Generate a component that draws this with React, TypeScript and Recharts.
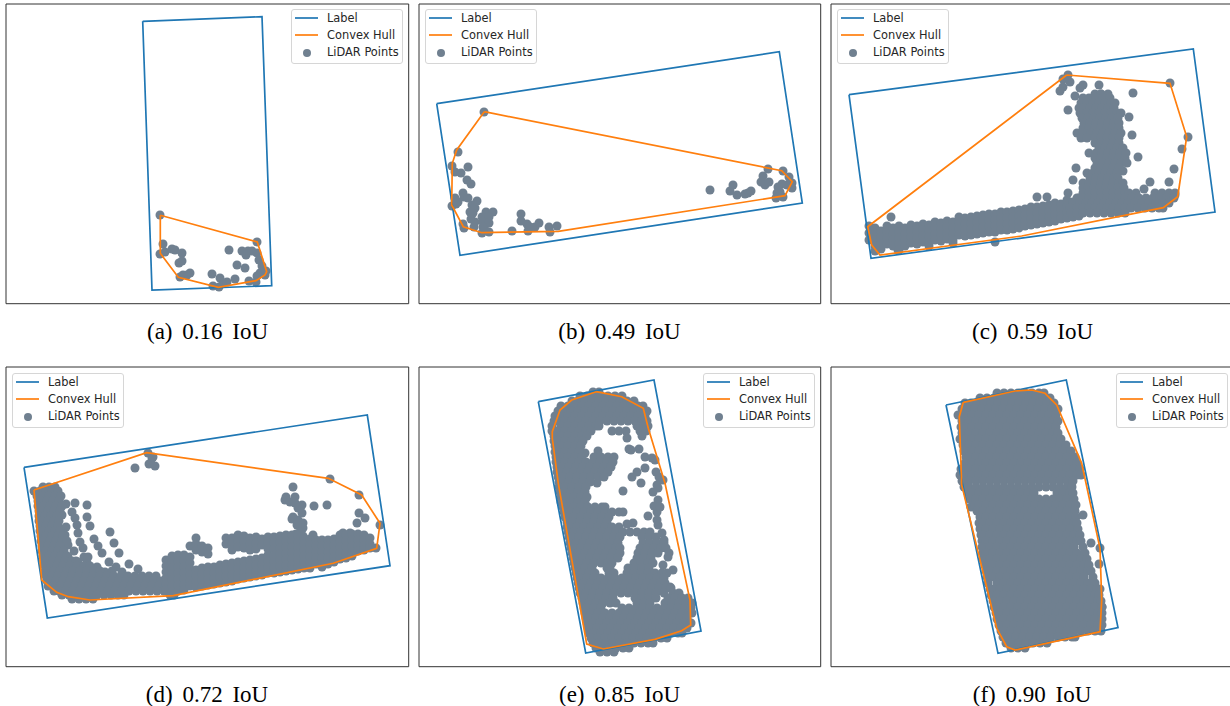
import React from "react";
import { ScatterChart, Scatter, XAxis, YAxis, ZAxis, Legend, ReferenceArea } from "recharts";

type Pt = { x: number; y: number };
const fromRows = (rows: number[][]): Pt[] => rows.flatMap(([y, ...xs]) => xs.map((x) => ({ x, y })));
const fromCols = (cols: number[][]): Pt[] => cols.flatMap(([x, ...ys]) => ys.map((y) => ({ x, y })));
const fromPairs = (p: number[][]): Pt[] => p.map(([x, y]) => ({ x, y }));
const closed = (p: number[][]): Pt[] => fromPairs([...p, p[0]]);

const captions = ["(a) 0.16 IoU", "(b) 0.49 IoU", "(c) 0.59 IoU", "(d) 0.72 IoU", "(e) 0.85 IoU", "(f) 0.90 IoU"];
const seriesNames = ["Label", "Convex Hull", "LiDAR Points"];

// (a)
const labelA = [[142.7,21.3],[262,16.7],[271.7,285.7],[152,290]];
const hullA = [[160.3,215.3],[257.3,242],[266.7,271.7],[265,275],[256,280.7],[218.3,287.3],[178.3,277.3],[160.3,253.3]];
const pointsA = [[160,215],[163,244],[160,254],[165,252],[172,249],[175,250],[182,253],[182,261],[179,263],[190,273],[187,275],[183,275],[180,277],[212,274],[213,286],[220,278],[219,287],[223,283],[227,282],[235,279],[229,250],[242,251],[246,255],[248,251],[252,251],[257,253],[257,242],[259,260],[237,265],[245,268],[262,266],[266,271],[265,275],[260,273],[257,276],[249,281],[256,282],[262,272]];

// (b)
const labelB = [[21.7,103.7],[364.3,51.7],[387.3,203],[45,255.3]];
const hullB = [[69.3,111.7],[366.7,170.7],[377.3,181.7],[370,195.7],[143.3,231.3],[66.7,232.7],[48.3,226.7],[36.7,205],[37.3,163.3],[41.7,150]];
const pointsB = [[69,112],[43,152],[37,166],[53,167],[40,172],[46,173],[52,180],[56,184],[48,193],[49,197],[53,198],[40,198],[43,202],[37,206],[41,204],[62,201],[57,205],[60,208],[55,212],[58,213],[71,212],[78,212],[67,217],[74,217],[56,219],[60,222],[68,222],[74,223],[48,224],[49,228],[59,227],[68,227],[67,233],[74,232],[70,230],[97,231],[106,214],[106,221],[112,224],[113,231],[115,227],[120,227],[124,223],[134,227],[135,232],[142,226],[295,190],[315,191],[318,185],[322,195],[330,194],[333,193],[336,191],[353,169],[348,176],[346,182],[350,185],[354,182],[368,171],[374,177],[377,183],[377,188],[367,184],[372,185],[363,187],[362,193],[361,198],[368,197],[365,192]];

// (c)
const labelC = [[24,94.7],[368.3,49],[390,212],[46,258.3]];
const hullC = [[241.7,75],[345,83.3],[361.7,136.7],[352.7,196.7],[338.3,207.7],[196.7,236],[55,255],[46.7,245],[42.7,226.7]];
const isolatedC = [[243,75],[238,79],[245,82],[238,87],[235,91],[258,85],[255,88],[250,96],[274,85],[345,83],[363,137],[357,149],[349,169],[344,182],[325,182],[319,189],[350,195],[313,157],[307,135],[304,117],[308,93],[276,94],[243,110],[251,168],[248,180],[243,193],[298,171],[212,197],[222,197],[66,217],[170,242],[128,243],[73,250]];
const bandC = [[44,226,233,240],[50,228,234,240,246,251],[56,231,237,243,249],[62,226,232,238,244],[68,228,234,240,246],[74,226,232,238,244,250],[80,228,234,240,246],[86,225,231,237,243],[92,226,232,238,244],[98,224,230,236,242],[104,225,231,237,243,246],[110,222,228,234,240],[116,223,229,235,241],[122,221,227,233,239],[128,222,228,234,240],[134,217,223,229,235],[140,218,224,230,236],[146,217,223,229,235],[152,216,222,228,234],[158,215,221,227,233],[164,214,220,226,232],[170,214,220,226,232],[176,212,218,224,230],[182,212,218,224,230],[188,211,217,223,229],[194,210,216,222,228],[200,209,215,221,226],[206,207,213,219,225],[212,207,213,219,224],[218,206,212,218,223],[224,205,211,217,222],[230,203,209,215,221],[236,204,210,216,219],[242,200,206,212,218],[248,202,208,214,217],[254,198,204,210,216]];
const towerC = [[94,270,276,283],[98,258,264,271,278,285],[103,256,262,268,274,280,286,290],[108,254,259,265,271,277,283,289],[113,255,262,268,274,280,286,292,296],[118,257,263,269,275,281,287,293],[123,259,265,271,277,283,289,294],[128,258,264,270,276,282,288,294],[133,252,258,266,272,278,284,290,296],[138,256,262,270,276,282,288,294],[143,270,276,282,288,294],[148,274,280,286,292,298],[153,264,271,277,283,289,295,301],[158,270,276,282,288,294,300],[163,272,278,284,290,296,302],[168,270,276,282,288,294],[173,262,268,274,280,286,292],[178,265,271,277,283,289,293],[183,258,264,270,276,282,288,294,298],[188,258,263,269,275,281,287,293,299],[193,258,264,270,276,282,288,294,300,304,311,330,337,344,350],[198,252,258,264,270,276,282,288,294,300,307,314,321,328,335,342,349],[203,248,255,261,267,273,279,285,291,297,303,310,317,324,331,338,344],[208,245,252,258,264,270,276,282,288,294,300,306,313,320,327,334,338],[213,246,252,258,265,272,279,286,293,300]];
const pointsC = [...fromPairs(isolatedC), ...fromCols(bandC), ...fromRows(towerC)];

// (d)
const labelD = [[24,107.3],[367.3,55],[390,205.7],[47.3,258]];
const hullD = [[34,130],[146.7,92.7],[328.3,118.3],[361.7,135],[380,163.3],[376.7,188.3],[333.3,203.3],[173.3,235.7],[90,240],[68.3,236.7],[56.7,232.3],[41.7,220]];
const isolatedD = [[148,93],[152,98],[149,104],[155,106],[135,108],[153,97],[330,119],[359,135],[293,127],[314,146],[327,145],[359,153],[365,158],[357,163],[380,165],[286,137],[285,140],[290,142],[295,137],[295,143],[302,145],[298,148],[302,153],[293,157],[292,159],[298,160],[303,163],[297,165],[303,168],[300,172],[296,174],[303,176],[313,175],[343,173],[350,173],[75,143],[87,145],[87,157],[90,166],[110,172],[94,179],[98,186],[114,183],[102,193],[119,193],[109,202],[116,207],[129,204],[122,212],[138,209],[66,144],[72,152],[75,158],[62,155],[77,165],[66,167],[65,175],[78,173],[80,182],[83,188],[68,185],[84,197],[68,197],[88,197],[78,202],[97,207],[87,203],[105,212]];
const cornerD = [[127,43,49,55],[131,34,40,46,52,58],[136,37,43,49,55,61],[141,38,41,47,53,59],[146,38,44,50,56,62],[151,39,42,48,54,60],[156,39,45,51,57],[161,39,42,48,54,59],[166,40,46,52,58],[171,40,43,49,55,60],[176,41,46,52,58,63],[181,41,44,50,56,62,67],[186,42,48,54,60],[191,42,46,52,58,64,74],[196,43,49,55,61,67],[201,44,47,53,59,65,72,76],[206,45,51,57,63,70,77,84,90],[211,45,48,54,60,67,73,80,87,94,100,112],[216,46,52,58,65,72,79,86,93,100,107,114,121,128,135,142,149,156],[221,47,50,56,63,70,77,84,91,98,105,112,119,126,133,140,147,154,161],[226,48,54,61,68,75,82,89,96,103,110,117,124,131,138,145,152,159,166,173],[231,54,59,66,73,80,87,94,101,108,115,122,129,136,143,150,157,164,171,175],[235,62,69,76,83,90,97,104,111,118,124,170,174],[239,72,79,86,93]];
const bandD = [[166,200,206,212,218,224,230],[172,196,202,208,214,220,226,232],[178,195,201,207,213,219,225,231],[184,195,201,207,213,219,225,230],[190,186,197,203,209,215,221,226],[196,178,184,190,210,216,222,227],[202,186,192,208,214,220,226],[208,188,194,207,213,219,225],[214,207,213,219,224],[220,205,211,217,223],[226,178,184,204,210,216,222],[232,178,184,190,203,209,215,221],[238,175,181,187,202,208,214,219],[244,176,182,188,201,207,213,218],[250,178,184,190,200,206,212,217],[256,177,183,189,199,205,211,216],[262,179,185,198,204,210,215],[268,177,183,189,195,201,207,213],[274,177,183,189,196,202,208,213],[280,176,182,188,194,200,206,212],[286,175,181,187,193,199,205,211],[292,175,181,187,193,199,205,210],[298,176,182,188,194,200,206,209],[304,178,184,190,196,202,208],[310,179,185,191,197,203,208],[316,180,186,192,198,204],[322,180,186,192,198,204,207],[328,180,186,192,198,204],[334,179,185,191,197,202],[340,175,181,187,193,199],[346,175,181,187,193,198],[352,174,180,186,192,196],[358,174,180,186,191],[364,175,181,186,190],[370,178,184,188],[376,188]];
const pointsD = [...fromPairs(isolatedD), ...fromRows(cornerD), ...fromCols(bandD)];

// (e)
const labelE = [[123.3,41.7],[239,20],[286,271],[170.7,293]];
const hullE = [[181.3,31.7],[206.7,36.7],[228.3,48.3],[233.3,68.3],[250,123.3],[275,240],[275.7,265],[266.7,270.7],[240,279.3],[188.3,289],[171.7,284],[143.3,123.3],[137.3,78.3],[137.3,71.7],[145,50],[156.7,40]];
const isolatedE = [[212,78],[170,93],[183,91],[214,89],[216,90],[224,89],[230,97],[237,98],[240,100],[222,112],[230,108],[217,117],[241,112],[244,117],[226,123],[242,125],[248,120],[208,131],[238,132],[243,128],[243,140],[239,146],[242,152],[245,147],[233,156],[242,160],[243,165],[247,173],[249,180],[253,197],[248,205],[258,210],[254,193],[255,227],[182,123],[218,163],[212,164]];
const rowsE = [[32,178,184],[36,165,172,179,186,193,200,207],[41,157,163,170,177,184,191,198,205,212,219],[46,146,153,160,167,174,181,188,195,202,209,216,223,228],[51,143,149,156,163,170,177,184,191,198,205,212,219,226,232],[56,140,146,153,160,167,174,181,188,195,202,209,216,223,230],[61,139,143,150,157,164,171,178,185,192,199,206,213,220,227,232],[66,137,146,153,160,167,174,181,184,222,229,233],[71,137,143,150,157,164,171,176,197,204,211,225,231],[76,139,146,153,160,167,172,227],[81,139,143,150,157,164,168],[86,140,146,153,160,166],[92,140,143,150,157,164],[97,141,146,153,160,167,179,186,193,199],[102,141,143,150,157,164,171,178,185,192,198],[107,142,147,154,161,168,175,182,189,196],[112,142,145,152,159,166,173,180,187,193],[117,143,148,155,162,169,176,183,189],[122,144,147,154,161,168,175],[127,144,150,157,164,171],[132,145,149,156,163,170],[137,146,152,159,166,172],[142,146,149,156,163,170],[147,148,152,159,166,173,180,187,190],[152,149,155,162,169,176,183,190,197,204,208],[157,150,152,159,166,173,180,187,194],[162,152,158,165,172,179,186,192],[167,152,155,162,169,176,183,190,197,204],[172,153,159,166,173,180,187,194,201,208,215,222,229,235],[177,154,157,164,171,178,185,192,199,205,227,234,241],[183,155,161,168,175,182,189,196,203,228,235,242,249],[188,156,159,166,173,180,187,194,201,205,225,232,239,246,251],[193,157,163,170,177,184,191,198,205,223,230,237,243],[198,158,161,168,175,182,189,196,203,222,229,236],[203,159,165,172,179,186,193,197,219,226,233,238],[208,160,163,170,177,192,195,213,220,227,234],[213,161,167,174,180,194,199,212,219,226,233,240,247,252],[218,162,165,172,179,186,193,200,207,214,221,228,235,242,249],[223,163,169,176,183,190,197,204,211,218,225,232,239,246,250],[228,164,167,174,181,188,195,202,209,216,223,230,237,244,251,256],[233,165,171,178,185,192,199,206,213,220,227,234,241,249,258,264],[238,167,170,177,184,191,198,220,227,234,241,253,260,267,273],[243,168,174,181,188,195,201,222,229,235,250,257,264,271,277],[248,169,172,179,186,207,214,221,228,235,242,249,256,263,270,276],[253,170,176,183,190,197,204,211,218,225,232,239,246,253,260,267,274,277],[258,171,174,181,188,195,202,209,216,223,230,237,244,251,258,265,272],[263,172,178,185,192,199,206,213,220,227,234,241,248,255,262,269,276],[268,173,175,182,189,196,203,210,217,224,231,238,245,252,259,266,272],[273,174,179,186,193,200,207,214,221,228,235,242,249,256,263,267],[278,176,183,190,197,204,211,218,225,232,239,246,252],[283,178,184,191,198,205,212,219,226,233,238],[288,181,187,194,201,208,214],[292,185,192,199]];
const pointsE = [...fromPairs(isolatedE), ...fromRows(rowsE)];

// (f)
const labelF = [[121,45],[241.3,20],[293,267.7],[173,293.3]];
const hullF = [[138.3,42.3],[190,31],[206.7,30],[220,33.3],[231.7,45],[256.7,103.3],[275,188.3],[276.7,240],[275,271.7],[190,290],[181.7,286.7],[171.7,268.3],[136.7,125],[134.3,56.7]];
const isolatedF = [[146,147],[258,155],[266,183],[275,188],[274,204],[275,229],[277,247]];
const rowsF = [[33,172,179,186,193,200,207,214,219],[38,155,162,169,176,183,190,197,204,211,218,225],[43,140,146,152,159,166,173,180,187,194,201,208,215,222,229],[49,137,143,150,157,164,171,178,185,192,199,206,213,220,227,233],[55,133,140,147,154,161,168,175,182,189,196,203,210,217,224,231],[61,137,144,151,158,165,172,179,186,193,200,207,214,221,228,233],[67,136,140,147,154,161,168,175,182,189,196,203,210,217,224,231],[73,137,144,151,158,165,172,179,186,193,200,207,214,221,228,233],[79,135,140,147,154,161,168,175,182,189,196,203,210,217,224,231,236],[85,138,144,151,158,165,172,179,186,193,200,207,214,221,228,235,241],[91,139,147,154,161,168,175,182,189,196,203,210,217,224,231,238,246],[97,141,144,151,158,165,172,179,186,193,200,207,214,221,228,235,242,250],[103,140,147,154,161,168,175,182,189,196,203,210,217,224,231,238,245,252],[109,136,144,151,158,165,172,179,186,193,200,207,214,221,228,235,242,249,255],[115,135,140,147,154,161,168,175,182,189,196,203,210,217,224,231,238,245,252,256],[121,137,144,151,158,165,172,179,186,193,200,207,214,221,228,235,242,248],[127,139,144,151,158,165,172,179,186,193,200,207,214,221,228,235,242,247],[133,143,147,154,161,168,175,182,189,196,203,209,232,238,245,248],[139,145,151,158,165,172,179,186,193,200,207,214,221,228,235,242,249],[145,150,154,161,168,175,182,189,196,203,210,217,224,231,238,245,251],[151,152,158,165,172,179,186,193,200,207,214,221,228,235,242,250],[157,155,161,168,175,182,189,196,203,210,217,224,231,238,245,251],[163,154,158,165,172,179,186,193,200,207,214,221,228,235,242,249,252],[169,155,161,168,175,182,189,196,203,210,217,224,231,238,245,253],[175,156,158,165,172,179,186,193,200,207,214,221,228,235,242,249,255],[181,157,161,168,175,182,189,196,203,210,217,224,231,238,245,252,256],[187,157,165,172,179,186,193,200,207,214,221,228,235,242,249,258],[193,158,161,168,175,182,189,196,203,210,217,224,231,238,245,252,260],[199,158,165,172,179,186,193,200,207,214,221,228,235,242,249,256,262],[205,160,168,175,182,189,196,203,210,217,224,231,238,245,252,259,264],[211,161,165,172,179,186,193,200,207,214,221,228,235,242,249,256,263,266],[217,162,168,175,182,189,196,203,210,217,224,231,238,245,252,259,268],[223,163,172,179,186,193,200,207,214,221,228,235,242,249,256,263,270],[229,165,168,175,182,189,196,203,210,217,224,231,238,245,252,259,266,272],[235,166,172,179,186,193,200,207,214,221,228,235,242,249,256,263,270,274],[241,168,175,182,189,196,203,210,217,224,231,238,245,252,259,266,273,276],[247,169,172,179,186,193,200,207,214,221,228,235,242,249,256,263,270,277],[253,171,175,182,189,196,203,210,217,224,231,238,245,252,259,266,273,277],[259,172,179,186,193,200,207,214,221,228,235,242,249,256,263,270,277],[265,174,182,189,196,203,210,217,224,231,238,245,252,259,266,273,277],[271,176,179,186,193,200,207,214,221,228,235,242,249,256,263,270,276],[277,178,184,191,198,205,212,219,226,233,240,247,250],[283,181,187,194,201,208,215,222],[288,186,193,200]];
const pointsF = [...fromPairs(isolatedF), ...fromRows(rowsF)];

const BLUE = "#1f77b4";
const ORANGE = "#ff7f0e";
const SLATE = "#708090";

const legendSvg = () => (
  <svg width={112} height={55} style={{ display: "block", overflow: "visible" }}>
    <rect x={0.5} y={0.5} width={111} height={54} rx={2.5} fill="#fff" fillOpacity={0.8} stroke="#d6d6d6" />
    <line x1={4} x2={27} y1={9} y2={9} stroke={BLUE} strokeWidth={1.7} />
    <line x1={4} x2={27} y1={26} y2={26} stroke={ORANGE} strokeWidth={1.7} />
    <circle cx={16} cy={44} r={4} fill={SLATE} />
    {seriesNames.map((n, i) => (
      <text key={n} x={36} y={12.5 + i * 17} fontFamily="DejaVu Sans" fontSize={11.4} fill="#262626">{n}</text>
    ))}
  </svg>
);

const noDot = () => <g />;

function Panel(p: { left: number; top: number; w: number; h: number; L: number; R: number; T: number; B: number; label: number[][]; hull: number[][]; points: Pt[]; lx: number; ly: number }) {
  return (
    <div style={{ position: "absolute", left: p.left, top: p.top, width: p.w, height: p.h }}>
      <ScatterChart width={p.w} height={p.h} margin={{ left: p.L, top: p.T, right: p.w - p.R, bottom: p.h - p.B }}>
        <XAxis type="number" dataKey="x" domain={[p.L, p.R]} hide allowDataOverflow />
        <YAxis type="number" dataKey="y" domain={[p.T, p.B]} reversed hide allowDataOverflow />
        <ZAxis range={[58, 58]} />
        <Scatter name={seriesNames[2]} data={p.points} fill={SLATE} isAnimationActive={false} />
        <Scatter name={seriesNames[0]} data={closed(p.label)} line={{ stroke: BLUE, strokeWidth: 1.7 }} shape={noDot} isAnimationActive={false} />
        <Scatter name={seriesNames[1]} data={closed(p.hull)} line={{ stroke: ORANGE, strokeWidth: 1.7 }} shape={noDot} isAnimationActive={false} />
        <ReferenceArea x1={p.L} x2={p.R} y1={p.T} y2={p.B} fill="none" stroke="#333" strokeWidth={1} ifOverflow="visible" />
        <Legend layout="horizontal" verticalAlign="middle" align="center" content={legendSvg} wrapperStyle={{ left: p.lx, top: p.ly, width: 112, height: 55, bottom: "auto", right: "auto" }} />
      </ScatterChart>
    </div>
  );
}

const capStyle: React.CSSProperties = { position: "absolute", fontFamily: "Liberation Serif", fontSize: 23, wordSpacing: 4, color: "#000", whiteSpace: "nowrap", lineHeight: "24px", transform: "translateX(-50%)" };

export default function App() {
  return (
    <div style={{ position: "absolute", left: 0, top: 0, width: 1230, height: 706, overflow: "hidden", background: "#fff" }}>
      <Panel left={0} top={0} w={415} h={345} L={6} R={408.7} T={4} B={303.7} label={labelA} hull={hullA} points={fromPairs(pointsA)} lx={291} ly={9.3} />
      <Panel left={415} top={0} w={410} h={345} L={4} R={405.7} T={4} B={303.7} label={labelB} hull={hullB} points={fromPairs(pointsB)} lx={10} ly={9.3} />
      <Panel left={825} top={0} w={410} h={345} L={6} R={408.7} T={4} B={303.7} label={labelC} hull={hullC} points={pointsC} lx={12} ly={9.3} />
      <Panel left={0} top={360} w={415} h={346} L={6} R={408.7} T={7} B={306.7} label={labelD} hull={hullD} points={pointsD} lx={12} ly={12.6} />
      <Panel left={415} top={360} w={410} h={346} L={4} R={405.7} T={7} B={306.7} label={labelE} hull={hullE} points={pointsE} lx={288.3} ly={12.6} />
      <Panel left={825} top={360} w={410} h={346} L={6} R={408.7} T={7} B={306.7} label={labelF} hull={hullF} points={pointsF} lx={291} ly={12.6} />
      {captions.map((c, i) => (
        <div key={c} style={{ ...capStyle, left: [207.5, 619.5, 1032.5, 207, 619.5, 1032][i], top: i < 3 ? 320 : 683 }}>{c}</div>
      ))}
    </div>
  );
}
